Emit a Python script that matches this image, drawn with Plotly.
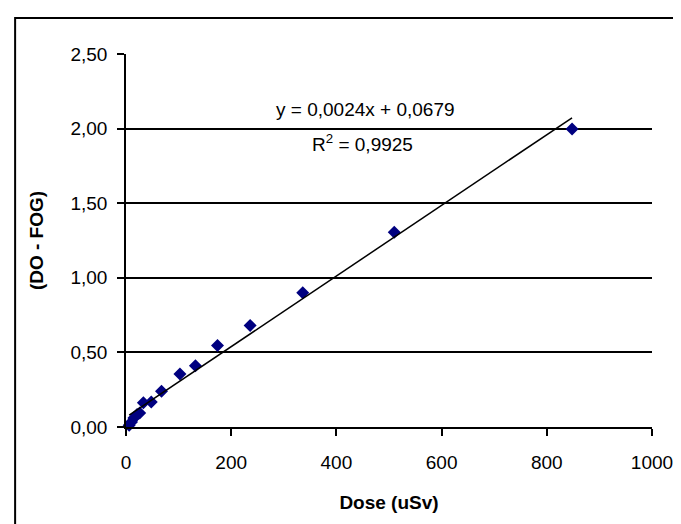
import plotly.graph_objects as go
import numpy as np

# Data
dose = [6, 10.5, 15, 21, 26, 33, 48, 67.5, 102.5, 132, 174, 236, 336, 510, 848]
do_fog = [0.011, 0.033, 0.06, 0.083, 0.094, 0.163, 0.167, 0.239, 0.355, 0.41,
          0.547, 0.681, 0.90, 1.306, 1.998]

eq_text = "y = 0,0024x + 0,0679"
r2_text = "R<sup>2</sup> = 0,9925"

x_ticks = [0, 200, 400, 600, 800, 1000]
y_ticks = [0, 0.5, 1.0, 1.5, 2.0, 2.5]

FONT = "Liberation Sans, Arial, sans-serif"
FS = 19

# linear trendline (least squares, as the spreadsheet does)
slope, intercept = np.polyfit(dose, do_fog, 1)
trend_x = [min(dose), max(dose)]
trend_y = [slope * v + intercept for v in trend_x]

fig = go.Figure()
fig.add_trace(go.Scatter(
    x=dose, y=do_fog, mode="markers",
    marker=dict(symbol="diamond", size=10, color="#000080", line=dict(width=0)),
    showlegend=False, cliponaxis=False))
fig.add_trace(go.Scatter(
    x=trend_x, y=trend_y, mode="lines",
    line=dict(color="black", width=1.5), showlegend=False))

fig.add_annotation(x=455, y=2.128, xref="x", yref="y", text=eq_text,
                   showarrow=False, font=dict(size=FS, color="black", family=FONT))
fig.add_annotation(x=449, y=1.905, xref="x", yref="y", text=r2_text,
                   showarrow=False, font=dict(size=FS, color="black", family=FONT))

# outer chart frame (left/top visible, right/bottom beyond the image)
fig.add_shape(type="rect", xref="paper", yref="paper",
              x0=-0.2108, x1=1.2, y0=-0.4, y1=1.0965,
              line=dict(color="black", width=2), fillcolor="rgba(0,0,0,0)", layer="below")

fig.update_layout(
    width=681, height=524,
    margin=dict(l=117.5, r=37, t=46, b=105, pad=0),
    paper_bgcolor="white", plot_bgcolor="white",
    separators=",.",
    font=dict(family=FONT, size=FS, color="black"),
    xaxis=dict(range=[0, 1000], tickvals=x_ticks, tickformat="d",
               showgrid=False, zeroline=False,
               showline=True, linecolor="black", linewidth=1.5,
               ticks="outside", ticklen=7, tickcolor="black", tickwidth=1.5,
               ticklabelstandoff=10,
               title=dict(text="<b>Dose (uSv)</b>", font=dict(size=FS), standoff=24)),
    yaxis=dict(range=[0, 2.5], tickvals=y_ticks, tickformat=".2f",
               showgrid=True, gridcolor="black", gridwidth=1.5,
               zeroline=False,
               showline=True, linecolor="black", linewidth=1.5,
               ticks="outside", ticklen=7, tickcolor="black", tickwidth=1.5,
               ticklabelstandoff=6,
               title=dict(text="<b>(DO - FOG)</b>", font=dict(size=FS), standoff=22)),
)

fig.write_html("out.html")
